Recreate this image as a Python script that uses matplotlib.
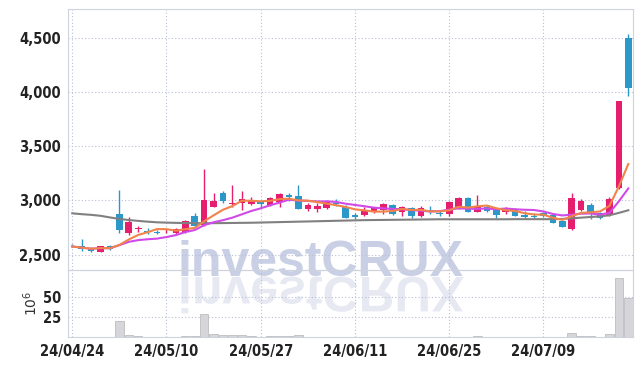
import matplotlib
matplotlib.use("Agg")
from matplotlib import pyplot as plt
from matplotlib.textpath import TextPath
from matplotlib.patches import PathPatch
from matplotlib.font_manager import FontProperties
from matplotlib.transforms import Affine2D
from matplotlib.ticker import FuncFormatter
import numpy as np
import pandas as pd

# daily OHLC, 60 sessions
opens = [2582, 2578, 2563, 2526, 2576, 2874, 2701, 2733, 2717, 2705,
         2714, 2701, 2710, 2855, 2769, 2941, 3070, 2969, 2972, 2969,
         2994, 2957, 2987, 3052, 3040, 2920, 2917, 2932, 2978, 2935,
         2864, 2864, 2901, 2908, 2957, 2895, 2932, 2858, 2911, 2886,
         2871, 2926, 3024, 2895, 2941, 2917, 2895, 2917, 2864, 2858,
         2880, 2864, 2809, 2735, 2911, 2957, 2880, 2864, 3115, 4494]
highs = [2595, 2640, 2572, 2580, 2588, 3095, 2843, 2763, 2742, 2726,
         2735, 2740, 2820, 2880, 3286, 3065, 3086, 3141, 3089, 3028,
         3000, 3033, 3065, 3064, 3141, 2972, 2972, 3003, 3009, 2957,
         2880, 2941, 2932, 2972, 2970, 2951, 2941, 2945, 2947, 2901,
         2995, 3030, 3030, 3049, 2957, 2925, 2940, 2925, 2901, 2880,
         2895, 2880, 2812, 3070, 3009, 2978, 2895, 3027, 3920, 4534]
lows = [2570, 2535, 2523, 2524, 2541, 2696, 2680, 2710, 2686, 2686,
        2696, 2692, 2700, 2757, 2763, 2935, 2978, 2941, 2910, 2957,
        2935, 2948, 2935, 2996, 2917, 2904, 2895, 2917, 2947, 2834,
        2825, 2858, 2880, 2871, 2860, 2855, 2834, 2850, 2871, 2858,
        2855, 2920, 2890, 2889, 2889, 2834, 2871, 2855, 2840, 2840,
        2843, 2788, 2755, 2726, 2904, 2825, 2828, 2855, 3105, 3962]
closes = [2574, 2553, 2532, 2578, 2553, 2726, 2803, 2742, 2705, 2698,
          2720, 2735, 2809, 2766, 3003, 2994, 2994, 2978, 3012, 3003,
          2966, 3018, 3055, 3033, 2923, 2957, 2951, 2982, 2963, 2840,
          2849, 2901, 2926, 2963, 2871, 2938, 2858, 2932, 2889, 2871,
          2987, 3024, 2895, 2947, 2904, 2864, 2932, 2858, 2846, 2846,
          2855, 2793, 2757, 3018, 2997, 2880, 2834, 3012, 3915, 4033]
# volume in millions of shares
volumes = [0.4, 0.5, 0.3, 0.3, 0.4, 19.6, 2.0, 1.0, 0.5, 0.4,
           0.3, 0.4, 0.7, 0.8, 28.7, 3.4, 2.3, 2.3, 2.2, 1.0,
           0.4, 0.8, 0.8, 0.8, 2.0, 0.4, 0.3, 0.3, 0.3, 0.5,
           0.4, 0.3, 0.3, 0.3, 0.3, 0.3, 0.3, 0.3, 0.3, 0.3,
           0.3, 0.3, 0.3, 1.0, 0.3, 0.3, 0.3, 0.3, 0.3, 0.3,
           0.3, 0.3, 0.3, 4.5, 1.0, 1.0, 0.4, 3.4, 73.0, 49.0]
# long moving average (needs history before the window)
ma_long = [2880, 2872, 2866, 2857, 2842, 2828, 2818, 2810, 2803, 2797,
           2794, 2792, 2790, 2789, 2789, 2789, 2790, 2791, 2792, 2793,
           2795, 2797, 2799, 2801, 2803, 2805, 2807, 2809, 2811, 2813,
           2815, 2817, 2818, 2819, 2820, 2821, 2822, 2823, 2824, 2825,
           2825, 2825, 2825, 2825, 2825, 2825, 2825, 2826, 2826, 2826,
           2826, 2826, 2828, 2834, 2840, 2846, 2852, 2862, 2884, 2908]
tick_pos = [0, 10, 20, 30, 40, 50]
tick_labels = ['24/04/24', '24/05/10', '24/05/27', '24/06/11', '24/06/25', '24/07/09']

UP = '#e61e6e'
DOWN = '#2c97c9'
GRID = '#b8bfd6'

df = pd.DataFrame({'o': opens, 'h': highs, 'l': lows, 'c': closes, 'v': volumes})
df['ma5'] = df['c'].rolling(5, min_periods=1).mean()
df['ma10'] = df['c'].rolling(10, min_periods=1).mean()
x = np.arange(len(df))
colors = [UP if c >= o else DOWN for o, c in zip(df['o'], df['c'])]

fig = plt.figure(figsize=(6.42, 3.66), dpi=100)

# watermark and its mirror image
wm_font = FontProperties(family='Liberation Sans', weight='bold', size=36)
fig.text(178 / 642, 90 / 366, 'investCRUX', fontproperties=wm_font,
         color='#c9cfe4', zorder=0)
tp = TextPath((0, 0), 'investCRUX', prop=wm_font)
mirror = PathPatch(tp, facecolor='#e7e9f2', edgecolor='none', zorder=0)
mirror.set_transform(Affine2D().scale(100 / 72, -100 / 72).translate(178, 366 - 277))
fig.add_artist(mirror)

ax = fig.add_axes([68 / 642, 1 - 270 / 366, (633 - 68) / 642, (270 - 9) / 366])
axv = fig.add_axes([68 / 642, 1 - 337 / 366, (633 - 68) / 642, (337 - 270) / 366], sharex=ax)
for a in (ax, axv):
    a.set_facecolor('none')
    a.set_zorder(1)
    for s in a.spines.values():
        s.set_color('#cfd3de')
        s.set_linewidth(0.8)
    a.grid(True, color=GRID, linestyle=(0, (1, 2)), linewidth=0.8)
    a.set_axisbelow(True)
    a.tick_params(length=0, pad=5)

# candles
body_bot = np.minimum(df['o'], df['c'])
body_h = np.maximum(np.abs(df['c'] - df['o']), 6)
ax.vlines(x, df['l'], df['h'], colors=colors, linewidth=1.0, zorder=2)
ax.bar(x, body_h, bottom=body_bot, width=0.7, color=colors, zorder=3)

ax.plot(x, ma_long, color='#808080', linewidth=1.5, zorder=4)
ax.plot(x, df['ma10'], color='#d04ae8', linewidth=1.5, zorder=4)
ax.plot(x, df['ma5'], color='#f0844a', linewidth=1.5, zorder=4)

ax.set_xlim(-0.45, 59.5)
ax.set_ylim(2357, 4765)
ax.set_yticks([2500, 3000, 3500, 4000, 4500])
ax.yaxis.set_major_formatter(FuncFormatter(lambda v, p: f'{v:,.0f}'))
ax.set_xticks(tick_pos)
ax.tick_params(axis='x', labelbottom=False)

axv.bar(x, df['v'], width=0.9, color='#d6d6da', edgecolor='#b4b4b8', linewidth=0.5, zorder=2)
axv.set_ylim(0, 83.5)
axv.set_yticks([25, 50])
axv.set_xticks(tick_pos)
axv.set_xticklabels(tick_labels)
axv.set_ylabel(r'$10^{6}$', fontsize=10, color='#333333')
axv.yaxis.set_label_coords(-0.05, 0.5)

lab_font = FontProperties(family='DejaVu Sans', stretch='condensed', weight='bold', size=10.5)
for lab in ax.get_yticklabels() + axv.get_yticklabels() + axv.get_xticklabels():
    lab.set_fontproperties(lab_font)
    lab.set_color('#222222')

fig.savefig('out.png', dpi=100)
